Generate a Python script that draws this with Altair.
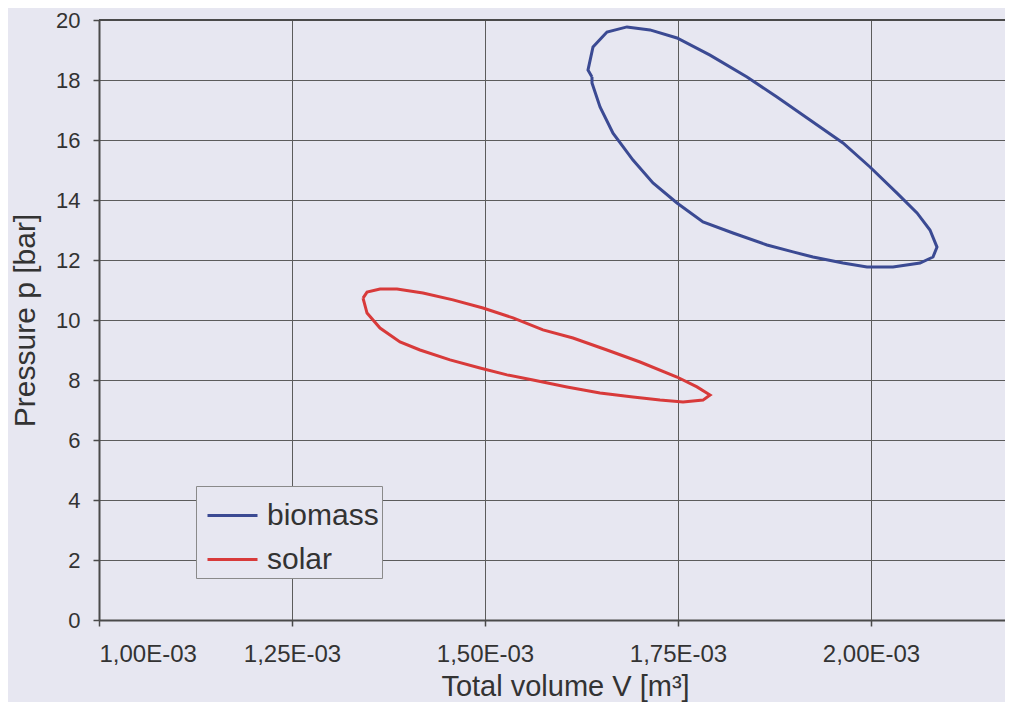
import altair as alt
import pandas as pd

# Biomass loop (volume in m^3, pressure in bar)
biomass_v = [1.6386e-3, 1.6334e-3, 1.6399e-3, 1.6580e-3, 1.6839e-3, 1.7137e-3, 1.7487e-3, 1.7915e-3,
             1.8394e-3, 1.8782e-3, 1.9210e-3, 1.9637e-3, 1.9987e-3, 2.0337e-3, 2.0596e-3, 2.0764e-3,
             2.0855e-3, 2.0803e-3, 2.0635e-3, 2.0285e-3, 1.9948e-3, 1.9637e-3, 1.9249e-3, 1.8990e-3,
             1.8653e-3, 1.8212e-3, 1.7824e-3, 1.7487e-3, 1.7176e-3, 1.6917e-3, 1.6658e-3, 1.6490e-3,
             1.6386e-3, 1.6386e-3]
biomass_p = [18.10, 18.33, 19.10, 19.60, 19.77, 19.67, 19.40, 18.83,
             18.10, 17.43, 16.67, 15.90, 15.10, 14.23, 13.57, 13.00,
             12.43, 12.10, 11.90, 11.77, 11.77, 11.90, 12.10, 12.27,
             12.50, 12.90, 13.27, 13.90, 14.57, 15.33, 16.23, 17.10,
             17.90, 18.10]

# Solar loop
solar_v = [1.3420e-3, 1.3472e-3, 1.3640e-3, 1.3860e-3, 1.4197e-3, 1.4585e-3, 1.4974e-3, 1.5363e-3,
           1.5751e-3, 1.6140e-3, 1.6580e-3, 1.7008e-3, 1.7487e-3, 1.7746e-3, 1.7915e-3, 1.7824e-3,
           1.7565e-3, 1.7267e-3, 1.6917e-3, 1.6490e-3, 1.6062e-3, 1.5622e-3, 1.5285e-3, 1.4935e-3,
           1.4547e-3, 1.4158e-3, 1.3899e-3, 1.3640e-3, 1.3472e-3, 1.3420e-3]
solar_p = [10.73, 10.93, 11.03, 11.03, 10.90, 10.67, 10.40, 10.07,
           9.67, 9.40, 9.00, 8.60, 8.10, 7.77, 7.50, 7.33,
           7.27, 7.33, 7.43, 7.57, 7.77, 8.00, 8.17, 8.40,
           8.67, 9.00, 9.27, 9.73, 10.23, 10.73]

series_names = ["biomass", "solar"]
series_colors = ["#3b4a93", "#d83a3a"]
x_ticks = [1.00e-3, 1.25e-3, 1.50e-3, 1.75e-3, 2.00e-3]
y_ticks = [0, 2, 4, 6, 8, 10, 12, 14, 16, 18, 20]

rows = []
for i, (v, p) in enumerate(zip(biomass_v, biomass_p)):
    rows.append({"series": "biomass", "V": v, "p": p, "i": i})
for i, (v, p) in enumerate(zip(solar_v, solar_p)):
    rows.append({"series": "solar", "V": v, "p": p, "i": i})
df = pd.DataFrame(rows)

BG = "#e7e7f1"
FONT = "Liberation Sans"
TXT = "#333333"
W, H = 906, 600
x_max = 1.0e-3 + W / 772.0 * 1e-3

x_enc = alt.X(
    "V:Q",
    scale=alt.Scale(domain=[1.0e-3, x_max], nice=False, zero=False),
    axis=alt.Axis(
        values=x_ticks,
        labelExpr="replace(replace(upper(format(datum.value, '.2e')), '.', ','), 'E-3', 'E-03')",
        title="Total volume V [m³]",
        titleX=466, titleY=75, titleAlign="center", titleBaseline="alphabetic",
        labelPadding=16, labelBaseline="top",
        labelFontSize=24, titleFontSize=29, labelFont=FONT, titleFont=FONT,
        labelColor=TXT, titleColor=TXT, titleFontWeight="normal",
    ),
)
y_enc = alt.Y(
    "p:Q",
    scale=alt.Scale(domain=[0, 20], nice=False),
    axis=alt.Axis(
        values=y_ticks,
        title="Pressure p [bar]",
        titleX=-65, titleY=300, titleAlign="center", titleBaseline="alphabetic", titleAngle=270,
        labelPadding=13,
        labelFontSize=22, titleFontSize=30, labelFont=FONT, titleFont=FONT,
        labelColor=TXT, titleColor=TXT, titleFontWeight="normal",
    ),
)

lines = alt.Chart(df).mark_line(strokeWidth=3).encode(
    x=x_enc,
    y=y_enc,
    order="i:Q",
    color=alt.Color(
        "series:N",
        scale=alt.Scale(domain=series_names, range=series_colors),
        legend=alt.Legend(
            title=None, orient="none", legendX=97, legendY=466,
            symbolType="stroke", symbolSize=2500, symbolStrokeWidth=3, symbolOffset=7,
            labelFontSize=30, labelFont=FONT, labelColor=TXT, labelOffset=8,
            fillColor=BG, strokeColor="#8a8a8a", padding=3, rowPadding=2,
        ),
    ),
)

top_rule = alt.Chart(pd.DataFrame({"p": [20]})).mark_rule(color="#4a4a4a", strokeWidth=2).encode(
    y=alt.Y("p:Q")
)

chart = alt.layer(lines, top_rule).properties(
    width=W, height=H,
    autosize=alt.AutoSizeParams(type="none"),
    padding={"left": 91, "top": 12, "right": 0, "bottom": 82},
    background=BG,
).configure_view(
    fill=BG, stroke=None,
).configure_axis(
    gridColor="#5c5c5c", gridWidth=1, gridOpacity=1,
    domainColor="#4a4a4a", domainWidth=2,
    tickColor="#4a4a4a", tickSize=6, tickWidth=1.5,
)

chart.save("out.html", embed_options={"renderer": "svg", "actions": False})
